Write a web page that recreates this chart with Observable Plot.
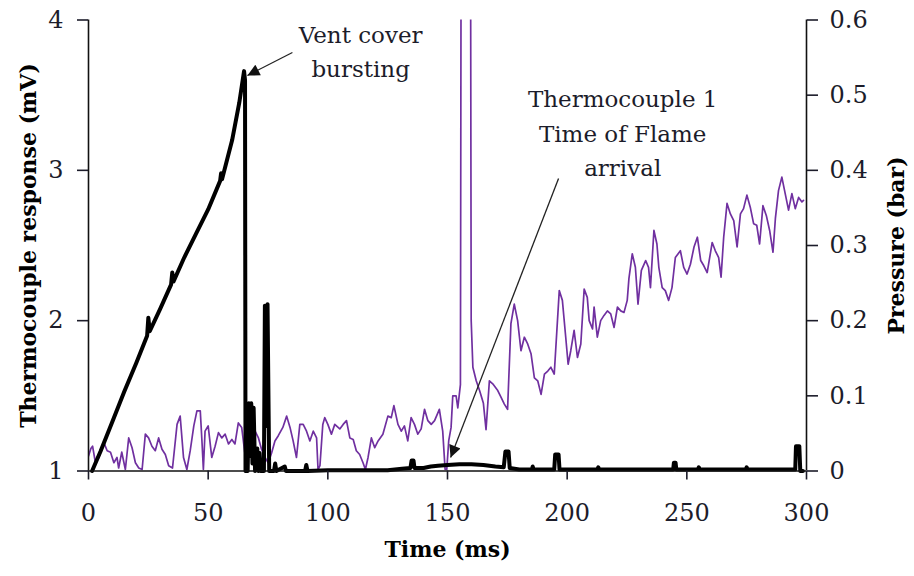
<!DOCTYPE html>
<html>
<head>
<meta charset="utf-8">
<script src="https://cdn.jsdelivr.net/npm/d3@7"></script>
<script src="https://cdn.jsdelivr.net/npm/@observablehq/plot@0.6"></script>
<style>
  html, body { margin: 0; padding: 0; background: #fff; }
  #chart { width: 914px; height: 576px; }
</style>
</head>
<body>
<div id="chart"></div>
<script>
// ---- Data ----
const xTicks = [0, 50, 100, 150, 200, 250, 300];
const mvTicks = [1, 2, 3, 4];
const mvTickLabels = ["1", "2", "3", "4"];
const pressureTicks = [0, 0.1, 0.2, 0.3, 0.4, 0.5, 0.6];
const pressureTickLabels = ["0", "0.1", "0.2", "0.3", "0.4", "0.5", "0.6"];

const xTitle = "Time (ms)";
const yLeftTitle = "Thermocouple response (mV)";
const yRightTitle = "Pressure (bar)";

// Pressure trace (bar) vs time (ms)
const pressureTime = [
  0, 1, 1.7, 2.9, 4.3, 5.7, 6.5, 7.8, 9.2, 10.6, 11.9, 12.6, 13.9, 15.4, 16.8, 18.2, 19.6, 21, 22.4, 23.75,
  25.1, 26.5, 27.9, 29.3, 30.7, 32.1, 33.5, 35.1, 37, 38.3, 39.7, 41.1, 42.5, 44, 45.3, 46.7, 47.4, 48, 48.7, 50,
  51.5, 52.9, 54.3, 55.7, 57.1, 58.5, 59.9, 61.2, 62.6, 64, 65.4, 66.8, 68.2, 69.6, 71, 72.3, 73.75, 75.1, 76.5, 77.9,
  79.3, 81.2, 82.8, 84.2, 85.5, 86.9, 88.3, 89.7, 91.1, 92.5, 93.9, 95.3, 95.9, 96.7, 97.9, 98.7, 100, 101.5, 102.9, 105,
  106.4, 107.8, 109.2, 110.6, 111.9, 113.3, 114.7, 115.7, 116.8, 118.2, 119.6, 121, 123, 125.1, 126.5, 127.6, 129.3, 130.7, 132, 133.4,
  134.8, 136.2, 137.6, 139, 140.4, 141.8, 143.2, 144.6, 146.6, 148, 149, 149.7, 150.5, 151.5, 152.2, 153.6, 154.3, 155.4, 155.8, 159.5,
  159.9, 160.6, 162, 163.4, 165, 166.1, 167.5, 168.9, 171, 172.4, 173.75, 175.1, 176.5, 177.9, 179.3, 180.7, 182.1, 183.5, 184.9, 186.3,
  187.7, 189.1, 190.5, 191.9, 193.2, 194.6, 196.7, 198, 199.4, 200.4, 201.5, 202.9, 204.3, 205.7, 207.1, 208.4, 209.2, 210.6, 211.25, 212.6,
  214, 215.4, 216.8, 218.2, 219.6, 221, 222.4, 223.75, 225.1, 225.8, 227.2, 228.5, 229.6, 231, 232.8, 234, 234.8, 236.25, 237.5, 238.3,
  239.7, 241, 242.4, 243.8, 245.2, 247.3, 248.7, 250.1, 251.5, 253, 254.4, 255.8, 257.1, 258.5, 260.6, 261.9, 263.3, 264.3, 265.4, 266.8,
  268.2, 269.6, 271, 272.4, 273.7, 275.1, 276.5, 277.9, 279.2, 280.4, 281.8, 283.2, 284.6, 286, 287, 288.3, 289.7, 291.1, 292.5, 293.9,
  295.3, 296.7, 298.1, 298.75
];
const pressureValue = [
  0.02, 0.03, 0.033, 0.011, 0.018, 0.031, 0.037, 0.027, 0.025, 0.011, 0.018, 0.004, 0.025, 0.002, 0.044, 0.031, 0.011, 0.004, 0.002, 0.049,
  0.044, 0.033, 0.027, 0.044, 0.029, 0.022, 0.007, 0.004, 0.062, 0.073, 0.018, 0.002, 0.027, 0.06, 0.08, 0.08, 0.04, 0.002, 0.053, 0.06,
  0.018, 0.033, 0.051, 0.044, 0.049, 0.036, 0.042, 0.036, 0.064, 0.058, 0.022, 0.08, 0.062, 0.053, 0.044, 0.029, 0.018, 0.011, 0.024, 0.04,
  0.047, 0.058, 0.073, 0.058, 0.04, 0.018, 0.062, 0.062, 0.053, 0.04, 0.053, 0.044, 0.002, 0.007, 0.062, 0.071, 0.062, 0.049, 0.062, 0.056,
  0.062, 0.067, 0.044, 0.042, 0.027, 0.022, 0.011, 0.002, 0.018, 0.044, 0.031, 0.04, 0.049, 0.073, 0.071, 0.087, 0.062, 0.053, 0.06, 0.04,
  0.071, 0.062, 0.049, 0.056, 0.082, 0.067, 0.062, 0.067, 0.082, 0.053, 0.002, 0.002, 0.04, 0.058, 0.1, 0.1, 0.084, 0.115, 0.95, 0.95,
  0.2, 0.138, 0.12, 0.107, 0.09, 0.055, 0.12, 0.116, 0.107, 0.098, 0.089, 0.082, 0.196, 0.222, 0.2, 0.16, 0.178, 0.169, 0.156, 0.124,
  0.12, 0.102, 0.129, 0.133, 0.138, 0.129, 0.24, 0.227, 0.178, 0.142, 0.16, 0.187, 0.151, 0.169, 0.242, 0.231, 0.2, 0.189, 0.218, 0.178,
  0.2, 0.207, 0.213, 0.209, 0.191, 0.218, 0.213, 0.211, 0.227, 0.256, 0.289, 0.271, 0.222, 0.267, 0.28, 0.271, 0.244, 0.32, 0.302, 0.271,
  0.244, 0.24, 0.227, 0.244, 0.284, 0.293, 0.271, 0.262, 0.275, 0.298, 0.311, 0.28, 0.273, 0.264, 0.304, 0.293, 0.284, 0.258, 0.311, 0.356,
  0.342, 0.333, 0.298, 0.342, 0.349, 0.367, 0.351, 0.329, 0.327, 0.302, 0.353, 0.34, 0.32, 0.291, 0.336, 0.373, 0.391, 0.369, 0.347, 0.369,
  0.349, 0.364, 0.358, 0.36
];

// Thermocouple 1 response (mV) vs time (ms)
const tcTime = [
  1.5, 5, 10, 15, 20, 24.5, 25, 25.6, 30, 34.5, 35, 35.5, 40, 45, 50, 55, 55.4, 55.8, 60, 63,
  65, 65.4, 65.6, 66.5, 67, 67.5, 68, 68.5, 69, 69.6, 70.5, 71, 71.5, 72, 73.3, 73.7, 74.3, 74.8, 75.5, 77.5,
  78, 78.5, 82, 82.5, 83, 90.5, 91, 91.5, 100, 110, 125, 128, 131, 134.5, 135, 135.8, 136.2, 140, 143, 146,
  150, 155, 160, 165, 170, 173.5, 174.2, 175.5, 176, 180, 185.3, 185.6, 186, 194.6, 195, 196.4, 196.8, 205, 212.6, 213,
  213.4, 230, 244.3, 244.6, 245.3, 245.6, 254.6, 255, 255.4, 274.6, 275, 275.4, 295.3, 295.6, 297, 297.4, 298.5
];
const tcValue = [
  1.0, 1.13, 1.33, 1.53, 1.72, 1.9, 2.02, 1.93, 2.08, 2.24, 2.32, 2.26, 2.42, 2.58, 2.74, 2.93, 2.98, 2.94, 3.2, 3.45,
  3.66, 3.6, 1.0, 1.0, 1.45, 1.1, 1.45, 1.05, 1.42, 1.0, 1.15, 1.0, 1.12, 1.0, 1.0, 2.1, 1.3, 2.11, 1.0, 1.0,
  1.05, 1.0, 1.03, 1.0, 1.0, 1.0, 1.04, 1.0, 1.005, 1.005, 1.005, 1.01, 1.015, 1.02, 1.07, 1.07, 1.02, 1.02, 1.03, 1.035,
  1.04, 1.045, 1.045, 1.04, 1.03, 1.025, 1.13, 1.13, 1.02, 1.01, 1.01, 1.03, 1.01, 1.01, 1.11, 1.11, 1.01, 1.01, 1.01, 1.025,
  1.01, 1.01, 1.01, 1.055, 1.055, 1.01, 1.01, 1.025, 1.01, 1.01, 1.025, 1.01, 1.01, 1.165, 1.165, 1.0, 1.0
];

// Annotations (anchored in data units: time ms, thermocouple mV)
const annotationTexts = ["Vent cover\nbursting", "Thermocouple 1\nTime of Flame\narrival"];
const annotationX = [113.7, 223.2];
const annotationY = [3.807, 3.265];
const arrowX1 = [85.2, 196.4];
const arrowY1 = [3.784, 2.946];
const arrowX2 = [66.4, 151.3];
const arrowY2 = [3.631, 1.09];

// ---- Tables built from the arrays ----
const pressure = pressureTime.map((t, i) => ({t, p: pressureValue[i]}));
const thermo = tcTime.map((t, i) => ({t, v: tcValue[i]}));
const notes = annotationTexts.map((text, i) => ({text, x: annotationX[i], y: annotationY[i]}));
const arrows = arrowX1.map((x1, i) => ({x1, y1: arrowY1[i], x2: arrowX2[i], y2: arrowY2[i]}));

// pressure (bar) shares the vertical scale: 0 bar -> 1 mV, 0.6 bar -> 4 mV
const pToMv = p => 1 + p * 5;

const ink = "#1c1c2a";
const chart = Plot.plot({
  width: 914,
  height: 576,
  marginLeft: 88,
  marginRight: 108,
  marginTop: 19.5,
  marginBottom: 105.5,
  style: {fontFamily: "DejaVu Serif", fontSize: "24px", color: ink, background: "#fff", overflow: "visible"},
  x: {domain: [0, 300]},
  y: {domain: [1, 4]},
  marks: [
    Plot.line(pressure, {x: "t", y: d => pToMv(d.p), stroke: "#7030A0", strokeWidth: 1.7, clip: true}),
    Plot.line(thermo, {x: "t", y: "v", stroke: "#000", strokeWidth: 4, strokeLinejoin: "round", strokeLinecap: "round"}),
    Plot.ruleX([0, 300], {stroke: "#111", strokeWidth: 1.6}),
    Plot.ruleY([1], {stroke: "#111", strokeWidth: 1.6}),
    Plot.axisX({ticks: xTicks, tickSize: 9, tickPadding: 24, tickFormat: d => String(d), fontSize: 24, strokeWidth: 1.6, label: null}),
    Plot.axisY({anchor: "left", ticks: mvTicks, tickSize: 11, tickPadding: 14, strokeWidth: 1.6,
      tickFormat: d => mvTickLabels[mvTicks.indexOf(d)], fontSize: 24, label: null}),
    Plot.axisY({anchor: "right", ticks: pressureTicks.map(pToMv), tickSize: 11, tickPadding: 12, strokeWidth: 1.6,
      tickFormat: d => pressureTickLabels[pressureTicks.findIndex(p => Math.abs(pToMv(p) - d) < 1e-9)], fontSize: 24, label: null}),
    Plot.text([yLeftTitle], {frameAnchor: "left", dx: -60, rotate: -90, textAnchor: "middle", text: d => d, fontWeight: "bold", fontSize: 22, fill: "#000"}),
    Plot.text([yRightTitle], {frameAnchor: "right", dx: 90, rotate: -90, textAnchor: "middle", text: d => d, fontWeight: "bold", fontSize: 22, fill: "#000"}),
    Plot.text([xTitle], {frameAnchor: "bottom", dy: 86, text: d => d, fontWeight: "bold", fontSize: 22, fill: "#000"}),
    Plot.text(notes, {x: "x", y: "y", text: "text", fontSize: 23, lineHeight: 1.5, textAnchor: "middle", fill: ink}),
    Plot.link(arrows, {x1: "x1", y1: "y1", x2: "x2", y2: "y2", stroke: "#222", strokeWidth: 1.3})
  ]
});

// filled triangular arrowheads on the annotation links
const svg = d3.select(chart);
const defs = svg.insert("defs", ":first-child");
defs.append("marker")
  .attr("id", "ahead").attr("viewBox", "0 0 10 10").attr("refX", 10).attr("refY", 5)
  .attr("markerWidth", 15).attr("markerHeight", 12).attr("markerUnits", "userSpaceOnUse").attr("orient", "auto")
  .append("path").attr("d", "M0,0L10,5L0,10Z").attr("fill", "#111");
svg.selectAll('g[aria-label="link"] path').attr("marker-end", "url(#ahead)");

document.getElementById("chart").appendChild(chart);
</script>
</body>
</html>
